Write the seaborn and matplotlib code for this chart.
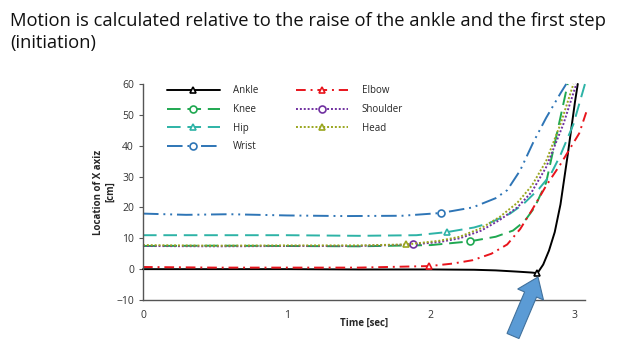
import matplotlib
matplotlib.use("Agg")
import matplotlib.pyplot as plt
import seaborn as sns
import pandas as pd
from matplotlib.patches import FancyArrow
from matplotlib.transforms import IdentityTransform

sns.set_theme(style="white")
plt.rcParams["font.family"] = ["Open Sans", "DejaVu Sans"]

# Joint displacement along X (cm) versus time (s)
ankle_t = [0, 0.5, 1.0, 1.5, 2.0, 2.3, 2.45, 2.6, 2.7, 2.74, 2.78, 2.82, 2.86, 2.9, 2.95, 3.0, 3.02]
ankle_y = [0, 0, 0, -0.1, -0.1, -0.2, -0.4, -0.8, -1.1, -1.3, 1.5, 6, 12, 21, 37, 54, 60]

knee_t = [0, 0.5, 1.0, 1.5, 2.0, 2.27, 2.45, 2.57, 2.65, 2.72, 2.8, 2.88, 2.95]
knee_y = [7.5, 7.6, 7.5, 7.4, 7.8, 9, 10.5, 12.5, 15.5, 20, 28, 45, 60]

hip_t = [0, 0.5, 1.0, 1.5, 1.9, 2.11, 2.3, 2.41, 2.55, 2.64, 2.75, 2.83, 2.9, 2.99, 3.07]
hip_y = [11, 11, 11, 10.8, 11, 12, 13.5, 15, 18, 21, 26, 30.5, 37, 47, 60]

wrist_t = [0, 0.3, 0.6, 1.0, 1.4, 1.8, 2.07, 2.29, 2.45, 2.53, 2.62, 2.71, 2.8, 2.9, 2.94]
wrist_y = [18, 17.6, 17.8, 17.4, 17.2, 17.3, 18.2, 20, 23, 25.6, 32, 41, 49, 57, 60]

elbow_t = [0, 0.5, 1.0, 1.5, 1.99, 2.15, 2.29, 2.42, 2.53, 2.62, 2.7, 2.8, 2.9, 3.03, 3.08]
elbow_y = [0.7, 0.5, 0.5, 0.5, 1, 1.8, 2.9, 5, 8, 13, 19, 27, 34, 44, 51]

shoulder_t = [0, 0.5, 1.0, 1.5, 1.875, 2.06, 2.2, 2.35, 2.48, 2.6, 2.7, 2.8, 2.92, 3.01]
shoulder_y = [7.5, 7.4, 7.5, 7.5, 8, 8.8, 10, 12.5, 16, 20, 25, 33, 47, 60]

head_t = [0, 0.5, 1.0, 1.5, 1.83, 2.06, 2.2, 2.35, 2.48, 2.6, 2.7, 2.8, 2.9, 2.99]
head_y = [7.8, 7.6, 7.7, 7.7, 8, 9.2, 10.5, 13.3, 17, 21.5, 27, 35, 47, 60]

# index of the point that carries each series' marker
ankle_mark, knee_mark, hip_mark, wrist_mark = 9, 5, 5, 6
elbow_mark, shoulder_mark, head_mark = 4, 4, 4

x_ticks = [0, 1, 2, 3]
y_ticks = [-10, 0, 10, 20, 30, 40, 50, 60]

series = [
    ("Ankle", ankle_t, ankle_y, ankle_mark, "#000000", "-", "^"),
    ("Knee", knee_t, knee_y, knee_mark, "#1FA851", (0, (7, 3.5)), "o"),
    ("Hip", hip_t, hip_y, hip_mark, "#2DB3A6", (0, (7, 3.5)), "^"),
    ("Wrist", wrist_t, wrist_y, wrist_mark, "#2E75B6", (0, (8, 2.5, 1, 2.5, 1, 2.5)), "o"),
    ("Elbow", elbow_t, elbow_y, elbow_mark, "#E8141C", (0, (5, 2.5, 1, 2.5)), "^"),
    ("Shoulder", shoulder_t, shoulder_y, shoulder_mark, "#7030A0", (0, (1, 1)), "o"),
    ("Head", head_t, head_y, head_mark, "#9AA61E", (0, (1, 1)), "^"),
]

fig = plt.figure(figsize=(6.2, 3.47), dpi=100)
ax = fig.add_axes([0.2306, 0.1354, 0.7129, 0.6226])

for name, t, y, mk, col, ls, marker in series:
    df = pd.DataFrame({"t": t, "y": y})
    sns.lineplot(data=df, x="t", y="y", ax=ax, color=col, linestyle=ls,
                 linewidth=1.4, marker=marker, markevery=[mk], markersize=5,
                 markerfacecolor="white", markeredgecolor=col, markeredgewidth=1.2,
                 label=name, clip_on=False)

ax.set_xlim(0, 3.07)
ax.set_ylim(-10, 60)
ax.set_xticks(x_ticks)
ax.set_yticks(y_ticks)
ax.tick_params(axis="both", labelsize=7.5, colors="#333333")
ax.tick_params(axis="y", length=3, width=0.8, left=True, direction="out", color="#555555")
ax.tick_params(axis="x", length=0, pad=7)
for s in ["top", "right"]:
    ax.spines[s].set_visible(False)
for s in ["left", "bottom"]:
    ax.spines[s].set_color("#555555")
    ax.spines[s].set_linewidth(1.0)

ax.set_xlabel("Time [sec]", fontsize=7, fontweight="bold", labelpad=-2)
ax.set_ylabel("Location of X axiz\n[cm]", fontsize=7, fontweight="bold", labelpad=0)

leg = ax.legend(loc="upper left", ncol=2, frameon=False, fontsize=7,
                bbox_to_anchor=(0.035, 1.035), handlelength=5.4, columnspacing=3.8,
                labelspacing=0.8, handletextpad=1.4)

fig.text(0.016, 0.965, "Motion is calculated relative to the raise of the ankle and the first step\n(initiation)",
         fontsize=13.2, va="top", ha="left", color="#111111", linespacing=1.3)

# pointer to the ankle lift-off (pixel coordinates)
tail_x, tail_y = 513, 347 - 336
tip_x, tip_y = 538, 347 - 277
arrow = FancyArrow(tail_x, tail_y, tip_x - tail_x, tip_y - tail_y,
                   width=13, head_width=28, head_length=19,
                   length_includes_head=True, transform=IdentityTransform(),
                   facecolor="#5B9BD5", edgecolor="#41719C", linewidth=0.8)
fig.patches.append(arrow)

fig.savefig("out.png", dpi=100)
